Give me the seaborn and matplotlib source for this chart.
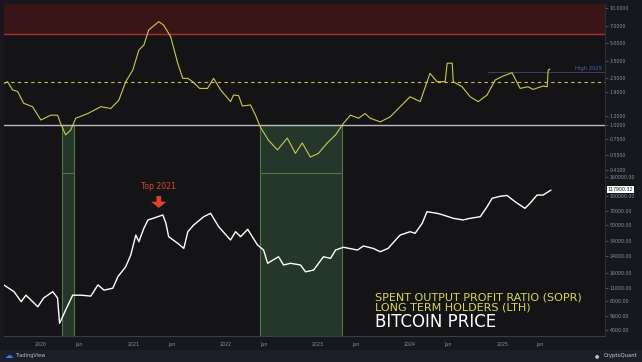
import pandas as pd
import matplotlib
matplotlib.use('Agg')
import matplotlib.pyplot as plt
import matplotlib.ticker as mticker
import seaborn as sns

# SOPR (LTH)
sopr_dates = ['2019-08-07', '2019-08-22', '2019-09-11', '2019-10-01', '2019-10-25', '2019-11-29',
              '2020-01-01', '2020-02-09', '2020-03-07', '2020-03-19', '2020-04-08', '2020-04-28',
              '2020-05-18', '2020-07-05', '2020-08-25', '2020-10-04', '2020-11-05', '2020-12-02',
              '2020-12-30', '2021-01-23', '2021-02-12', '2021-03-03', '2021-04-12', '2021-05-01',
              '2021-05-29', '2021-06-26', '2021-07-16', '2021-08-05', '2021-08-24', '2021-09-21',
              '2021-10-22', '2021-11-15', '2021-12-13', '2022-01-21', '2022-02-02', '2022-02-22',
              '2022-03-09', '2022-04-10', '2022-04-30', '2022-05-19', '2022-06-20', '2022-07-26',
              '2022-09-03', '2022-10-05', '2022-11-01', '2022-12-03', '2023-01-04', '2023-02-08',
              '2023-03-13', '2023-04-13', '2023-05-11', '2023-06-12', '2023-07-08', '2023-07-28',
              '2023-09-06', '2023-10-15', '2023-11-24', '2024-01-02', '2024-02-11', '2024-03-21',
              '2024-04-18', '2024-05-20', '2024-05-28', '2024-06-17', '2024-06-21', '2024-07-26',
              '2024-08-27', '2024-09-28', '2024-11-02', '2024-12-04', '2025-01-05', '2025-02-09',
              '2025-03-13', '2025-04-13', '2025-05-03', '2025-06-12', '2025-06-28', '2025-07-02',
              '2025-07-09']
sopr_values = [2.26, 2.34, 1.99, 1.93, 1.53, 1.43,
               1.10, 1.21, 1.21, 1.03, 0.82, 0.90,
               1.14, 1.25, 1.43, 1.38, 1.63, 2.34,
               2.94, 4.37, 4.82, 6.49, 7.64, 7.15,
               5.68, 3.37, 2.50, 2.50, 2.34, 2.05,
               2.05, 2.50, 1.99, 1.58, 1.80, 1.78,
               1.45, 1.48, 1.21, 0.96, 0.74, 0.61,
               0.77, 0.57, 0.70, 0.53, 0.57, 0.70,
               0.82, 1.03, 1.21, 1.14, 1.25, 1.14,
               1.06, 1.17, 1.43, 1.74, 1.58, 2.76,
               2.34, 2.34, 3.37, 3.37, 2.34, 2.12,
               1.74, 1.58, 1.80, 2.42, 2.62, 2.79,
               2.05, 2.12, 2.01, 2.15, 2.12, 2.94,
               3.00]

# Bitcoin price
price_dates = ['2019-08-07', '2019-09-17', '2019-10-15', '2019-11-03', '2019-12-20', '2020-01-12',
               '2020-02-17', '2020-03-07', '2020-03-15', '2020-04-08', '2020-05-06', '2020-06-07',
               '2020-07-17', '2020-08-14', '2020-09-07', '2020-10-12', '2020-11-01', '2020-12-02',
               '2020-12-22', '2021-01-11', '2021-01-23', '2021-02-12', '2021-02-28', '2021-03-24',
               '2021-04-28', '2021-05-10', '2021-05-21', '2021-06-26', '2021-07-20', '2021-08-05',
               '2021-08-28', '2021-10-07', '2021-11-03', '2021-12-05', '2022-01-21', '2022-02-10',
               '2022-03-02', '2022-03-30', '2022-05-08', '2022-06-01', '2022-06-17', '2022-07-30',
               '2022-08-19', '2022-09-16', '2022-10-25', '2022-11-14', '2022-12-16', '2023-01-24',
               '2023-02-21', '2023-03-13', '2023-04-13', '2023-06-08', '2023-07-01', '2023-08-09',
               '2023-09-06', '2023-10-07', '2023-11-12', '2023-11-24', '2024-01-02', '2024-01-22',
               '2024-02-19', '2024-03-09', '2024-04-18', '2024-05-12', '2024-06-21', '2024-07-30',
               '2024-08-27', '2024-10-06', '2024-11-02', '2024-11-22', '2024-12-24', '2025-01-20',
               '2025-02-21', '2025-04-01', '2025-04-21', '2025-05-19', '2025-06-12', '2025-07-13']
price_values = [11900, 10100, 7960, 9300, 7040, 8700,
                10100, 8700, 4730, 6500, 9300, 9300,
                9100, 11900, 10500, 11000, 14500, 18400,
                24400, 39400, 33600, 46400, 56600, 59300,
                63800, 52600, 37900, 32300, 28600, 42700,
                50100, 61200, 66400, 48200, 35000, 42700,
                37900, 45200, 31000, 27500, 20000, 23400,
                19200, 20000, 19200, 16300, 17000, 23400,
                22500, 27500, 29400, 27500, 30300, 28600,
                26400, 28600, 36500, 39400, 42700, 41100,
                52200, 69000, 66400, 63800, 58900, 56600,
                58900, 61200, 77800, 95200, 100000, 102000,
                87700, 74800, 84500, 103000, 103000, 116000]

sopr_ticks = [10, 7, 5, 3.5, 2.5, 1.9, 1.2, 1.0, 0.75, 0.55, 0.41]
price_ticks = [160000, 100000, 70000, 50000, 34000, 24000, 16000, 11000, 8000, 5600, 4000]
year_ticks = ['2020-01-01', '2021-01-01', '2022-01-01', '2023-01-01', '2024-01-01', '2025-01-01']
jun_ticks = ['2020-06-01', '2021-06-01', '2022-06-01', '2023-06-01', '2024-06-01', '2025-06-01']
green_zones = [('2020-03-25', '2020-05-11'), ('2022-05-19', '2023-04-08')]

red_zone_low = 6.0
dashed_level = 2.33
high_2025 = 2.83
last_price = 117900.32
top_date, top_price = '2021-04-12', 75500

BG = '#141417'
sns.set_theme(style='dark', rc={'axes.facecolor': BG, 'figure.facecolor': '#17181e'})
plt.rcParams['font.family'] = ['DejaVu Sans']

sopr_df = pd.DataFrame({'date': pd.to_datetime(sopr_dates), 'sopr': sopr_values})
price_df = pd.DataFrame({'date': pd.to_datetime(price_dates), 'price': price_values})

fig = plt.figure(figsize=(6.42, 3.62), dpi=100)
ax1 = fig.add_axes([4 / 642, 1 - 172.5 / 362, 601 / 642, 169 / 362])
ax2 = fig.add_axes([4 / 642, 1 - 336 / 362, 601 / 642, 163 / 362], sharex=ax1)

# footer strip
fig.patches.append(plt.Rectangle((0, 0), 1, 12 / 362, transform=fig.transFigure,
                                 facecolor='#1c1f2a', edgecolor='none', zorder=0))

# ---- top panel: SOPR
ax1.set_yscale('log')
ax1.axhspan(red_zone_low, 100, color='#3a1517', zorder=0)
ax1.axhline(red_zone_low, color='#a8332c', lw=1.0, zorder=1)
for d0, d1 in green_zones:
    ax1.fill_between(pd.to_datetime([d0, d1]), 0.2, 1.0, facecolor='#25372a',
                     edgecolor='#56763f', lw=0.8, zorder=0)
ax1.axhline(1.0, color='#b8bac0', lw=1.0, zorder=1)
ax1.axhline(dashed_level, color='#c9c447', lw=0.8, ls=(0, (3, 3)), zorder=1)
ax1.plot(pd.to_datetime(['2024-11-06', '2026-06-01']), [high_2025, high_2025],
         color='#363f5c', lw=0.8, zorder=1)
ax1.text(1.0 - 3 / 601, high_2025 * 1.03, 'High 2025', transform=ax1.get_yaxis_transform(),
         ha='right', va='bottom', fontsize=3.8, color='#3e6db3')
sns.lineplot(data=sopr_df, x='date', y='sopr', ax=ax1, color='#cdc84e', linewidth=0.8, zorder=3)
ax1.set_ylim(0.391, 10.93)
ax1.yaxis.tick_right()
ax1.yaxis.set_major_locator(mticker.FixedLocator(sopr_ticks))
ax1.yaxis.set_minor_locator(mticker.NullLocator())
ax1.yaxis.set_major_formatter(mticker.FuncFormatter(lambda v, p: f'{v:.4f}'))
ax1.tick_params(axis='y', labelsize=3.4, labelcolor='#8e919a', color='#6a6d75',
                length=2, width=0.5, pad=1.5, right=True)
ax1.tick_params(axis='x', labelbottom=False, bottom=False)

# ---- bottom panel: price
ax2.set_yscale('log')
for d0, d1 in green_zones:
    ax2.axvspan(pd.to_datetime(d0), pd.to_datetime(d1), facecolor='#25372a',
                edgecolor='#56763f', lw=0.8, zorder=0)
sns.lineplot(data=price_df, x='date', y='price', ax=ax2, color='white', linewidth=1.0, zorder=3)
ax2.set_ylim(3490, 174800)
ax2.yaxis.tick_right()
ax2.yaxis.set_major_locator(mticker.FixedLocator(price_ticks))
ax2.yaxis.set_minor_locator(mticker.NullLocator())
ax2.yaxis.set_major_formatter(mticker.FuncFormatter(lambda v, p: f'{v:.2f}'))
ax2.tick_params(axis='y', labelsize=3.4, labelcolor='#8e919a', color='#6a6d75',
                length=2, width=0.5, pad=1.5, right=True)
ax2.annotate(f'{last_price:.2f}', xy=(1.0, last_price), xycoords=('axes fraction', 'data'),
             xytext=(2, 0), textcoords='offset points', ha='left', va='center',
             fontsize=3.4, color='#131722',
             bbox=dict(boxstyle='square,pad=0.25', facecolor='white', edgecolor='none'))

xt = list(pd.to_datetime(year_ticks)) + list(pd.to_datetime(jun_ticks))
xl = [d[:4] for d in year_ticks] + ['Jun'] * len(jun_ticks)
ax2.set_xticks(xt)
ax2.set_xticklabels(xl)
ax2.tick_params(axis='x', labelsize=3.4, labelcolor='#8e919a', length=0, pad=4)
ax2.set_xlim(pd.Timestamp('2019-08-08'), pd.Timestamp('2026-02-12'))

# top annotation
ax2.annotate('', xy=(pd.Timestamp(top_date), top_price),
             xytext=(pd.Timestamp(top_date), top_price * 1.33),
             arrowprops=dict(facecolor='#e2412f', edgecolor='none', width=3.4,
                             headwidth=11, headlength=4.5, shrink=0))
ax2.text(pd.Timestamp(top_date), top_price * 1.68, 'Top 2021', ha='center', va='center',
         fontsize=5.6, color='#e2412f')

for ax in (ax1, ax2):
    ax.set_xlabel('')
    ax.set_ylabel('')
    ax.grid(False)
    for side in ('top', 'left'):
        ax.spines[side].set_visible(False)
    ax.spines['right'].set_color('#2c2f38')
    ax.spines['right'].set_linewidth(0.8)
    ax.spines['bottom'].set_color('#3c3d44')
    ax.spines['bottom'].set_linewidth(0.8)

# caption
yellow = '#dcd65a'
fig.text(375 / 642, 1 - 297 / 362, 'SPENT OUTPUT PROFIT RATIO (SOPR)',
         fontsize=8, color=yellow, ha='left', va='center')
fig.text(375 / 642, 1 - 307.5 / 362, 'LONG TERM HOLDERS (LTH)',
         fontsize=8, color=yellow, ha='left', va='center')
fig.text(375 / 642, 1 - 322 / 362, 'BITCOIN PRICE',
         fontsize=12, color='white', ha='left', va='center')

# footer
fig.text(5 / 642, 1 - 356 / 362, '\u2601', fontsize=6, color='#2e7ff0', ha='left', va='center')
fig.text(15 / 642, 1 - 356 / 362, 'TradingView', fontsize=3.6, color='#b9bcc4',
         ha='left', va='center')
fig.text(638 / 642, 1 - 356 / 362, 'CryptoQuant', fontsize=3.8, color='#c9ccd4',
         ha='right', va='center')
fig.text(600 / 642, 1 - 356 / 362, '\u25d6\u25d7', fontsize=3.6, color='#c9ccd4',
         ha='right', va='center')

fig.savefig('out.png', dpi=100, facecolor=fig.get_facecolor())
